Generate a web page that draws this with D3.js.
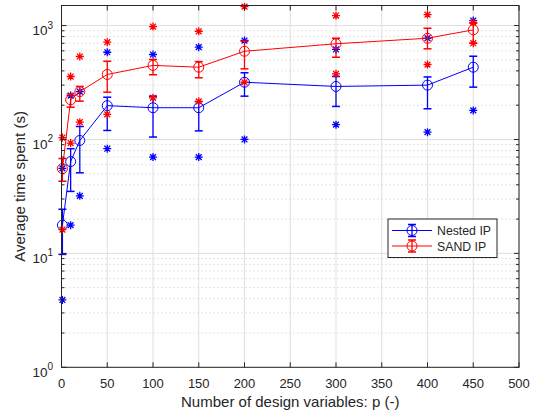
<!DOCTYPE html>
<html>
<head>
<meta charset="utf-8">
<script src="https://cdn.jsdelivr.net/npm/d3@7"></script>
<style>
  body { margin: 0; background: #fff; }
  svg text { font-family: "Liberation Sans", Arial, sans-serif; fill: #262626; }
</style>
</head>
<body>
<div id="chart"></div>
<script>
// Design variable counts
const pVals = [1, 10, 20, 50, 100, 150, 200, 300, 400, 450];

// Nested IP: mean, error bar ends, min / max runs
const nestedMean = [17.7, 64, 98, 198, 190, 190, 318, 292, 300, 431];
const nestedLo   = [9.8, 35, 51, 120, 105, 119, 240, 195, 186, 288];
const nestedHi   = [24.4, 83, 130, 235, 240, 215, 385, 357, 354, 538];
const nestedMin  = [3.9, 17.7, 32, 83, 70, 70, 100, 135, 116, 180];
const nestedMax  = [55.7, 243, 263, 583, 557, 646, 739, 617, 774, 1107];

// SAND IP
const sandMean = [55.5, 223, 263, 372, 447, 431, 595, 692, 774, 917];
const sandLo   = [43, 192, 217, 260, 370, 348, 417, 527, 625, 700];
const sandHi   = [68, 251, 292, 486, 504, 483, 728, 774, 947, 1048];
const sandMin  = [16.2, 93, 142, 166, 232, 216, 318, 377, 455, 700];
const sandMax  = [104, 357, 535, 714, 979, 891, 1466, 1224, 1248, 1060];

const xTicks = [0, 50, 100, 150, 200, 250, 300, 350, 400, 450, 500];
const yTicks = [1, 10, 100, 1000];

const series = [
  { name: 'Nested IP', color: '#0000ff', mean: nestedMean, lo: nestedLo, hi: nestedHi, min: nestedMin, max: nestedMax },
  { name: 'SAND IP', color: '#ff0000', mean: sandMean, lo: sandLo, hi: sandHi, min: sandMin, max: sandMax }
];

const width = 534, height = 416;
const plot = { left: 61.5, right: 519, top: 5.5, bottom: 367.3 };
const axisColor = '#262626';

const svg = d3.select('#chart').append('svg')
  .attr('width', width)
  .attr('height', height);

const x = d3.scaleLinear().domain([0, 500]).range([plot.left, plot.right]);
const y = d3.scaleLog().domain([1, 1500]).range([plot.bottom, plot.top]);

// minor log ticks
const minorTicks = [];
[1, 10, 100, 1000].forEach(d => {
  for (let k = 2; k <= 9; k++) {
    if (d * k <= 1500) minorTicks.push(d * k);
  }
});

const grid = svg.append('g');
grid.selectAll('.minor')
  .data(minorTicks)
  .join('line')
    .attr('x1', plot.left).attr('x2', plot.right)
    .attr('y1', d => y(d)).attr('y2', d => y(d))
    .attr('stroke', '#c8c8c8')
    .attr('stroke-width', 1)
    .attr('stroke-dasharray', '1,3');
grid.selectAll('.hmajor')
  .data(yTicks)
  .join('line')
    .attr('x1', plot.left).attr('x2', plot.right)
    .attr('y1', d => y(d)).attr('y2', d => y(d))
    .attr('stroke', '#dfdfdf');
grid.selectAll('.vmajor')
  .data(xTicks)
  .join('line')
    .attr('x1', d => x(d)).attr('x2', d => x(d))
    .attr('y1', plot.top).attr('y2', plot.bottom)
    .attr('stroke', '#dfdfdf');

// series
const line = d3.line()
  .x((d, i) => x(pVals[i]))
  .y(d => y(d));

const starPath = 'M-4,0H4M0,-4V4M-2.9,-2.9L2.9,2.9M-2.9,2.9L2.9,-2.9';

series.forEach(s => {
  const g = svg.append('g');
  g.append('path')
    .attr('d', line(s.mean))
    .attr('fill', 'none')
    .attr('stroke', s.color)
    .attr('stroke-width', 1);

  const bars = g.selectAll('.bar')
    .data(pVals)
    .join('g');
  bars.append('line')
    .attr('x1', d => x(d)).attr('x2', d => x(d))
    .attr('y1', (d, i) => y(s.lo[i])).attr('y2', (d, i) => y(s.hi[i]))
    .attr('stroke', s.color).attr('stroke-width', 1.3);
  bars.append('line')
    .attr('x1', d => x(d) - 4).attr('x2', d => x(d) + 4)
    .attr('y1', (d, i) => y(s.lo[i])).attr('y2', (d, i) => y(s.lo[i]))
    .attr('stroke', s.color).attr('stroke-width', 1.5);
  bars.append('line')
    .attr('x1', d => x(d) - 4).attr('x2', d => x(d) + 4)
    .attr('y1', (d, i) => y(s.hi[i])).attr('y2', (d, i) => y(s.hi[i]))
    .attr('stroke', s.color).attr('stroke-width', 1.5);
  bars.append('circle')
    .attr('cx', d => x(d))
    .attr('cy', (d, i) => y(s.mean[i]))
    .attr('r', 5)
    .attr('fill', 'none')
    .attr('stroke', s.color)
    .attr('stroke-width', 1);

  [s.min, s.max].forEach(vals => {
    g.selectAll(null)
      .data(pVals)
      .join('path')
        .attr('transform', (d, i) => `translate(${x(d)},${y(vals[i])})`)
        .attr('d', starPath)
        .attr('stroke', s.color)
        .attr('stroke-width', 1.3)
        .attr('fill', 'none');
  });
});

// box and ticks
const axes = svg.append('g');
axes.append('rect')
  .attr('x', plot.left).attr('y', plot.top)
  .attr('width', plot.right - plot.left)
  .attr('height', plot.bottom - plot.top)
  .attr('fill', 'none')
  .attr('stroke', axisColor)
  .attr('stroke-width', 1);

axes.selectAll('.xt')
  .data(xTicks)
  .join('path')
    .attr('d', d => `M${x(d)},${plot.bottom}v-5M${x(d)},${plot.top}v5`)
    .attr('stroke', axisColor);

axes.selectAll('.yt')
  .data(yTicks)
  .join('path')
    .attr('d', d => `M${plot.left},${y(d)}h5M${plot.right},${y(d)}h-5`)
    .attr('stroke', axisColor);

axes.selectAll('.ymt')
  .data(minorTicks)
  .join('path')
    .attr('d', d => `M${plot.left},${y(d)}h3M${plot.right},${y(d)}h-3`)
    .attr('stroke', axisColor);

axes.selectAll('.xl')
  .data(xTicks)
  .join('text')
    .attr('x', d => x(d))
    .attr('y', 388)
    .attr('text-anchor', 'middle')
    .attr('font-size', 13)
    .text(d => d);

const yl = axes.selectAll('.yl')
  .data(yTicks)
  .join('text')
    .attr('x', 53)
    .attr('y', d => y(d) + 9.5)
    .attr('text-anchor', 'end')
    .attr('font-size', 13.5);
yl.append('tspan').text('10');
yl.append('tspan')
  .attr('font-size', 10)
  .attr('dy', -6.5)
  .text(d => Math.round(Math.log10(d)));

svg.append('text')
  .attr('x', (plot.left + plot.right) / 2)
  .attr('y', 407)
  .attr('text-anchor', 'middle')
  .attr('font-size', 15)
  .text('Number of design variables: p (-)');

svg.append('text')
  .attr('transform', `translate(25,${(plot.top + plot.bottom) / 2}) rotate(-90)`)
  .attr('text-anchor', 'middle')
  .attr('font-size', 15)
  .text('Average time spent (s)');

// legend
const legend = svg.append('g');
legend.append('rect')
  .attr('x', 388).attr('y', 219)
  .attr('width', 109).attr('height', 38.5)
  .attr('fill', '#fff')
  .attr('stroke', axisColor);

series.forEach((s, i) => {
  const ly = 230.5 + i * 15.5;
  const lg = legend.append('g').attr('transform', `translate(0,${ly})`);
  lg.append('line')
    .attr('x1', 392).attr('x2', 432)
    .attr('stroke', s.color);
  lg.append('path')
    .attr('d', 'M412,-6V6M408,-6H416M408,6H416')
    .attr('stroke', s.color).attr('stroke-width', 1.3);
  lg.append('circle')
    .attr('cx', 412).attr('r', 5)
    .attr('fill', 'none')
    .attr('stroke', s.color);
  lg.append('text')
    .attr('x', 437).attr('y', 4.5)
    .attr('font-size', 12.3)
    .text(s.name);
});
</script>
</body>
</html>
